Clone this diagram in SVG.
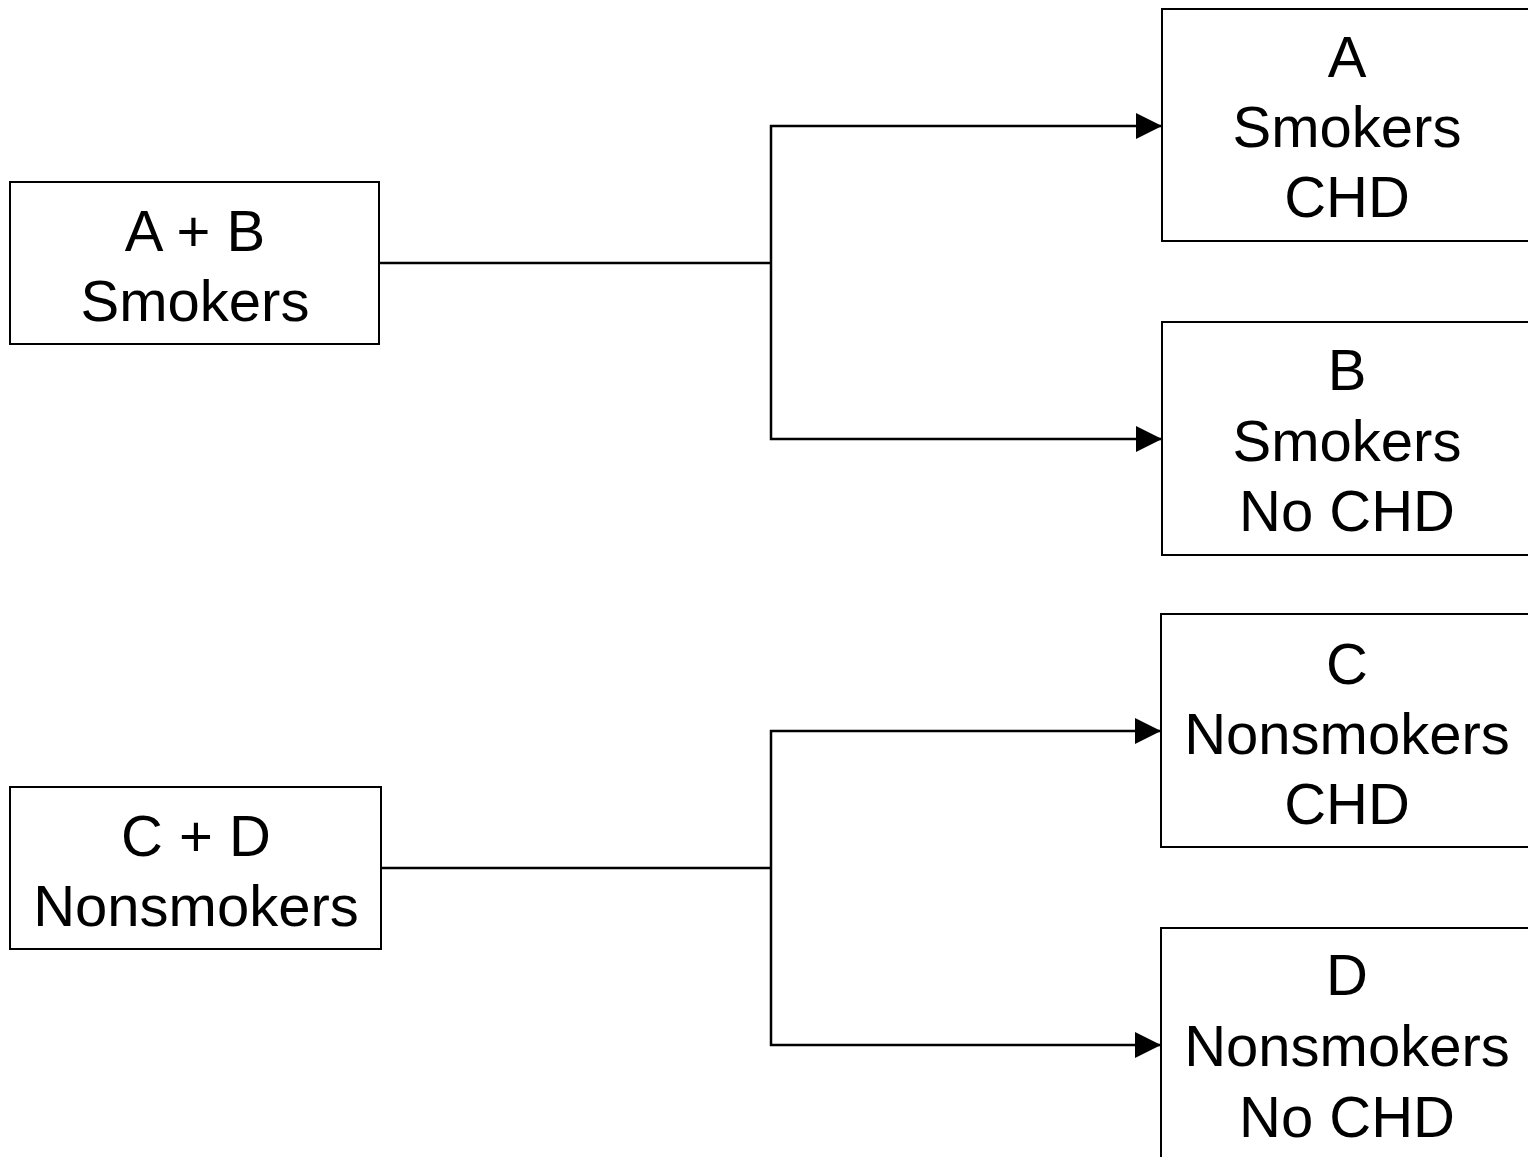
<svg xmlns="http://www.w3.org/2000/svg" width="1528" height="1157" viewBox="0 0 1528 1157">
  <style>
    .box { fill: #ffffff; stroke: #000000; stroke-width: 2; }
    .lbl { font-family: "Liberation Sans", Arial, sans-serif; font-size: 58px; fill: #000000; text-anchor: middle; }
    .wire { fill: none; stroke: #000000; stroke-width: 2.5; }
  </style>
  <defs>
    <marker id="arrow" markerUnits="userSpaceOnUse" markerWidth="27" markerHeight="28" refX="26" refY="14" orient="auto">
      <path d="M0,1 L26,14 L0,27 Z" fill="#000000"/>
    </marker>
  </defs>
  <rect width="1528" height="1157" fill="#ffffff"/>

  <g id="connectors">
    <path class="wire" d="M379,263 H771"/>
    <path class="wire" d="M771,263 V126 H1162" marker-end="url(#arrow)"/>
    <path class="wire" d="M771,263 V439 H1162" marker-end="url(#arrow)"/>
    <path class="wire" d="M381,868 H771"/>
    <path class="wire" d="M771,868 V731 H1161" marker-end="url(#arrow)"/>
    <path class="wire" d="M771,868 V1045 H1161" marker-end="url(#arrow)"/>
  </g>

  <g id="smokers">
    <rect class="box" x="10" y="182" width="369" height="162"/>
    <text class="lbl" x="195" y="251">A + B</text>
    <text class="lbl" x="195" y="321">Smokers</text>
  </g>

  <g id="nonsmokers">
    <rect class="box" x="10" y="787" width="371" height="162"/>
    <text class="lbl" x="196" y="856">C + D</text>
    <text class="lbl" x="196" y="926">Nonsmokers</text>
  </g>

  <g id="cell-a">
    <rect class="box" x="1162" y="9" width="372" height="232"/>
    <text class="lbl" x="1347" y="77">A</text>
    <text class="lbl" x="1347" y="147">Smokers</text>
    <text class="lbl" x="1347" y="217">CHD</text>
  </g>

  <g id="cell-b">
    <rect class="box" x="1162" y="322" width="372" height="233"/>
    <text class="lbl" x="1347" y="390">B</text>
    <text class="lbl" x="1347" y="461">Smokers</text>
    <text class="lbl" x="1347" y="531">No CHD</text>
  </g>

  <g id="cell-c">
    <rect class="box" x="1161" y="614" width="373" height="233"/>
    <text class="lbl" x="1347" y="684">C</text>
    <text class="lbl" x="1347" y="754">Nonsmokers</text>
    <text class="lbl" x="1347" y="824">CHD</text>
  </g>

  <g id="cell-d">
    <rect class="box" x="1161" y="928" width="373" height="240"/>
    <text class="lbl" x="1347" y="995">D</text>
    <text class="lbl" x="1347" y="1066">Nonsmokers</text>
    <text class="lbl" x="1347" y="1137">No CHD</text>
  </g>
</svg>
